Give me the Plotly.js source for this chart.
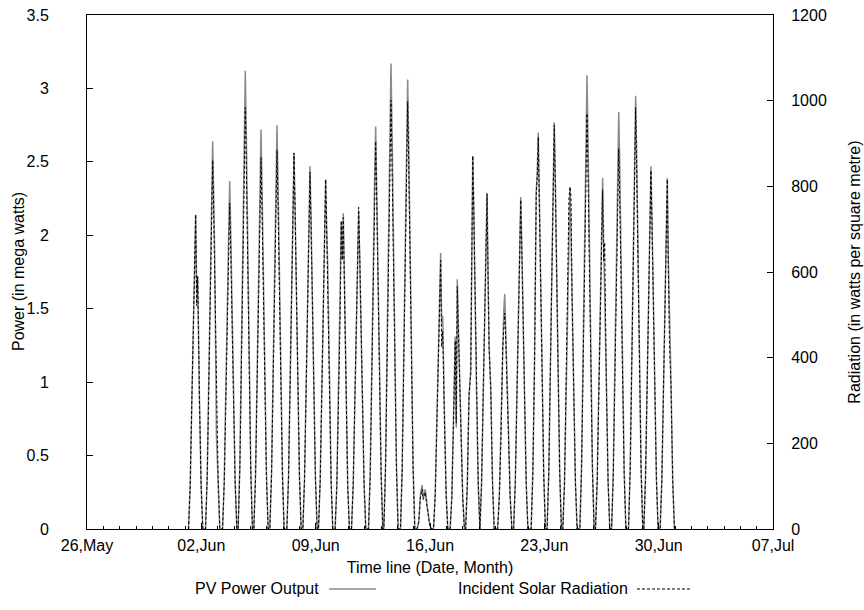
<!DOCTYPE html>
<html>
<head>
<meta charset="utf-8">
<script src="https://cdn.plot.ly/plotly-3.0.1.min.js"></script>
<style>html,body{margin:0;padding:0;background:#fff;}#chart{width:864px;height:610px;}</style>
</head>
<body>
<div id="chart"></div>
<script>
// Time of each day's peak
const peakTimes = [
  '2013-06-01 15:40','2013-06-02 16:40','2013-06-03 17:40','2013-06-04 16:35','2013-06-05 15:40',
  '2013-06-06 15:10','2013-06-07 16:10','2013-06-08 15:40','2013-06-09 14:40','2013-06-10 15:05',
  '2013-06-11 15:10','2013-06-12 16:10','2013-06-13 14:40','2013-06-14 15:10','2013-06-15 15:30',
  '2013-06-16 15:40','2013-06-17 16:05','2013-06-18 14:50','2013-06-19 11:50','2013-06-20 13:50',
  '2013-06-21 13:20','2013-06-22 15:05','2013-06-23 14:35','2013-06-24 13:40','2013-06-25 14:40',
  '2013-06-26 13:40','2013-06-27 13:20','2013-06-28 14:10','2013-06-29 12:40','2013-06-30 12:40'
];
// Sample hours relative to each day's peak
const hourOffsets = [-10.5, -8, -5.5, -3, -1.5, 0, 1.5, 3, 5.5, 8, 10.5];

// PV power output (MW), one row per day
const pvPower = [
  [0,.30,.90,1.50,1.84,2.14,1.62,1.72,.90,.30,0],
  [0,.37,1.11,1.85,2.27,2.64,2.27,1.85,.64,.37,0],
  [0,.33,1.00,1.66,2.04,2.37,2.04,1.66,1.00,.33,0],
  [0,.44,1.31,2.18,2.68,3.12,2.68,2.18,1.31,.44,0],
  [0,.38,1.14,1.90,2.34,2.72,2.34,1.90,1.14,.38,0],
  [0,.39,1.16,1.93,2.37,2.75,2.37,1.93,1.16,.39,0],
  [0,.36,1.08,1.55,2.20,2.56,2.20,1.79,1.08,.36,0],
  [0,.35,1.04,1.73,2.12,2.47,2.12,1.73,1.04,.35,0],
  [0,.33,1.00,1.67,2.05,2.38,2.05,1.80,1.10,.33,0],
  [0,.30,.90,1.50,2.08,1.85,2.15,1.75,.95,.30,0],
  [0,.30,.91,1.51,1.86,2.16,1.86,1.51,.91,.30,0],
  [0,.38,1.15,2.25,2.40,2.74,2.36,1.92,1.15,.38,0],
  [0,.44,1.33,2.22,2.73,3.17,2.73,2.22,1.33,.44,0],
  [0,.43,1.29,2.14,2.63,3.06,2.63,2.14,1.29,.43,0],
  [0,.05,.24,.30,.21,.24,.27,.21,.10,.03,0],
  [0,.24,.75,1.30,1.60,1.88,1.40,1.45,.80,.25,0],
  [0,.22,.80,1.31,.69,1.70,1.40,1.15,.70,.22,0],
  [0,.30,.90,1.08,2.05,2.54,2.18,1.60,.95,.30,0],
  [0,.32,.96,1.60,1.97,2.29,1.76,1.24,.96,.32,0],
  [0,.22,.67,1.30,1.48,1.60,1.38,1.12,.67,.22,0],
  [0,.32,.95,1.58,1.94,2.26,1.94,1.58,.95,.32,0],
  [0,.38,1.13,2.30,2.42,2.70,2.32,1.89,1.13,.38,0],
  [0,.39,1.16,1.94,2.38,2.77,2.38,1.94,1.16,.39,0],
  [0,.32,.97,1.62,2.00,2.32,2.00,1.62,.97,.32,0],
  [0,.43,1.30,2.16,2.66,3.09,2.66,2.16,1.30,.43,0],
  [0,.33,1.00,1.67,2.06,2.39,1.95,1.67,1.00,.33,0],
  [0,.40,1.19,1.99,2.44,2.84,2.47,1.99,1.19,.40,0],
  [0,.41,1.24,2.07,2.54,2.95,2.54,2.07,1.24,.41,0],
  [0,.35,1.04,1.73,2.12,2.47,2.12,1.73,1.04,.35,0],
  [0,.33,1.00,1.67,2.06,2.39,1.83,1.55,1.00,.33,0]
];

// Incident solar radiation (W/m^2), one row per day
const solarRadiation = [
  [0,103,308,514,631,734,521,590,308,103,0],
  [0,121,362,603,740,861,740,603,362,121,0],
  [0,107,320,533,654,761,654,533,320,107,0],
  [0,138,413,689,846,984,846,689,413,138,0],
  [0,121,364,607,746,867,746,607,364,121,0],
  [0,124,372,620,761,885,761,620,372,124,0],
  [0,123,369,615,755,878,755,615,369,123,0],
  [0,117,350,583,716,833,716,583,350,117,0],
  [0,114,343,571,702,816,702,571,343,114,0],
  [0,99,302,504,720,627,727,590,315,99,0],
  [0,105,315,526,646,751,646,526,315,105,0],
  [0,127,380,634,778,905,778,634,380,127,0],
  [0,140,420,701,861,1001,861,701,420,140,0],
  [0,140,419,699,858,998,858,699,419,140,0],
  [0,17,75,93,69,75,86,65,31,10,0],
  [0,79,247,429,531,627,425,463,257,79,0],
  [0,72,267,439,247,566,473,384,233,72,0],
  [0,103,315,360,686,871,747,600,360,113,0],
  [0,110,329,549,675,782,583,425,322,106,0],
  [0,72,213,425,480,504,439,353,213,72,0],
  [0,108,323,538,660,768,660,538,323,108,0],
  [0,127,384,782,823,915,789,641,384,127,0],
  [0,132,396,660,811,943,811,660,396,132,0],
  [0,110,329,549,771,799,775,549,329,110,0],
  [0,136,407,679,834,970,834,679,407,136,0],
  [0,110,333,555,682,792,627,669,333,110,0],
  [0,124,373,622,764,888,764,622,373,124,0],
  [0,138,413,689,846,984,846,689,413,138,0],
  [0,117,352,586,720,837,720,586,352,117,0],
  [0,113,343,573,706,816,621,449,326,110,0]
];

const xTickStart = '2013-05-26';
const xRange = ['2013-05-26', '2013-07-07'];

function fmt(ms) {
  return new Date(ms).toISOString().replace('T', ' ').slice(0, 19);
}
function toMs(s) {
  return Date.parse(s.replace(' ', 'T') + ':00Z');
}

const xs = [], pv = [], rad = [];
peakTimes.forEach((pt, d) => {
  const base = toMs(pt);
  hourOffsets.forEach((h, i) => {
    xs.push(fmt(base + h * 3600000));
    pv.push(pvPower[d][i]);
    rad.push(solarRadiation[d][i]);
  });
});

const font = {family: 'Liberation Sans, Arial, Helvetica, sans-serif', size: 16, color: '#000'};

const traces = [
  {x: xs, y: pv, type: 'scatter', mode: 'lines', name: 'PV Power Output',
   line: {color: '#8a8a8a', width: 1.5}, yaxis: 'y', showlegend: false, hoverinfo: 'skip'},
  {x: xs, y: rad, type: 'scatter', mode: 'lines', name: 'Incident Solar Radiation',
   line: {color: '#000', width: 1, dash: '3px,2px'}, yaxis: 'y2', showlegend: false, hoverinfo: 'skip'}
];

const legendY = -0.1167;
const layout = {
  width: 864, height: 610,
  margin: {l: 87, r: 91, t: 15, b: 81},
  paper_bgcolor: '#fff', plot_bgcolor: '#fff',
  font: font,
  showlegend: false,
  xaxis: {
    type: 'date', range: xRange, tickmode: 'linear', tick0: xTickStart, dtick: 7 * 86400000,
    tickformat: '%d,%b', ticks: 'inside', ticklen: 6, tickcolor: '#000',
    showline: true, linecolor: '#000', linewidth: 1, mirror: true,
    showgrid: false, zeroline: false, ticklabelstandoff: 2,
    minor: {ticks: 'inside', ticklen: 3, dtick: 86400000, tick0: xTickStart, tickcolor: '#000', showgrid: false},
    title: {text: 'Time line (Date, Month)', font: font, standoff: 8}
  },
  yaxis: {
    range: [0, 3.5], dtick: 0.5, tick0: 0, ticks: 'inside', ticklen: 6, tickcolor: '#000',
    showline: true, linecolor: '#000', linewidth: 1, showgrid: false, zeroline: false,
    ticklabelstandoff: 34
  },
  yaxis2: {
    overlaying: 'y', side: 'right', range: [0, 1200], dtick: 200, tick0: 0,
    ticks: 'inside', ticklen: 6, tickcolor: '#000',
    showline: true, linecolor: '#000', linewidth: 1, showgrid: false, zeroline: false,
    ticklabelstandoff: 14,
    title: {text: 'Radiation (in watts per square metre)', font: font, standoff: 22}
  },
  annotations: [
    {xref: 'paper', yref: 'paper', x: (18 - 87) / 686, y: 0.5, xanchor: 'center', yanchor: 'middle',
     textangle: -90, text: 'Power (in mega watts)', showarrow: false, font: font},
    {xref: 'paper', yref: 'paper', x: (321 - 87) / 686, y: legendY, xanchor: 'right', yanchor: 'middle',
     text: 'PV Power Output', showarrow: false, font: font},
    {xref: 'paper', yref: 'paper', x: (630 - 87) / 686, y: legendY, xanchor: 'right', yanchor: 'middle',
     text: 'Incident Solar Radiation', showarrow: false, font: font}
  ],
  shapes: [
    {type: 'line', xref: 'paper', yref: 'paper', x0: (329 - 87) / 686, x1: (376 - 87) / 686, y0: legendY, y1: legendY,
     line: {color: '#8a8a8a', width: 1.5}},
    {type: 'line', xref: 'paper', yref: 'paper', x0: (637 - 87) / 686, x1: (690 - 87) / 686, y0: legendY, y1: legendY,
     line: {color: '#000', width: 1, dash: '3px,2px'}}
  ]
};

Plotly.newPlot('chart', traces, layout, {staticPlot: true, displayModeBar: false});
</script>
</body>
</html>
